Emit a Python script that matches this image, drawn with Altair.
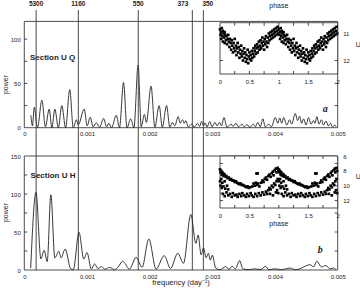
import altair as alt
import pandas as pd

# ---------------- data ----------------
# power spectra: (frequency in 1e-3 day^-1, power)
Q_SPECTRUM = [
    (0.106, 14), (0.130, 2), (0.159, 23), (0.210, 0), (0.281, 31), (0.337, 1), (0.397, 21), (0.440, 0),
    (0.487, 21), (0.543, 0), (0.598, 25), (0.659, 0), (0.725, 43), (0.781, 0), (0.832, 9), (0.860, 3),
    (0.956, 21), (1.003, 2), (1.051, 12), (1.098, 1), (1.149, 5.5), (1.202, 0.5), (1.265, 10.5), (1.313, 1),
    (1.349, 5), (1.392, 0), (1.467, 14), (1.519, 0), (1.583, 51), (1.638, 0), (1.698, 10), (1.749, 0),
    (1.816, 70.7), (1.865, 1), (1.916, 15), (1.948, 6), (2.022, 47), (2.083, 0.5), (2.151, 25), (2.202, 0.5),
    (2.270, 25), (2.321, 0.5), (2.360, 6), (2.400, 2), (2.456, 12.5), (2.487, 5), (2.524, 9), (2.551, 5),
    (2.578, 8), (2.614, 1), (2.673, 4), (2.710, 0.5), (2.765, 5), (2.797, 1.5), (2.829, 7), (2.860, 2),
    (2.884, 5.5), (2.916, 1), (2.959, 7), (2.995, 1), (3.043, 6), (3.075, 2), (3.114, 6), (3.146, 2),
    (3.186, 11.5), (3.233, 0.5), (3.297, 4), (3.329, 1.5), (3.376, 5), (3.416, 1), (3.471, 4), (3.511, 1),
    (3.551, 3.5), (3.598, 0.5), (3.654, 4), (3.686, 1), (3.725, 6), (3.765, 1), (3.805, 10), (3.844, 1),
    (3.900, 4), (3.940, 1), (4.006, 11.5), (4.043, 5), (4.075, 11), (4.106, 5), (4.138, 11.5), (4.186, 3),
    (4.233, 9), (4.265, 4), (4.324, 16), (4.360, 8), (4.392, 13), (4.424, 5), (4.456, 10), (4.495, 3),
    (4.535, 11.5), (4.575, 4), (4.614, 8), (4.638, 5), (4.667, 12.5), (4.702, 4), (4.741, 9), (4.773, 3),
    (4.813, 7.5), (4.852, 2), (4.884, 5), (4.916, 1), (4.956, 3), (4.975, 1),
]
H_SPECTRUM = [
    (0.102, 2.6), (0.186, 102), (0.265, 14.5), (0.317, 26), (0.365, 11), (0.424, 99), (0.487, 16),
    (0.551, 24.6), (0.587, 16), (0.651, 27.6), (0.741, 1.5), (0.781, 0.5), (0.873, 49.6), (0.948, 14.5),
    (1.000, 23), (1.070, 1.3), (1.122, 8), (1.175, 2), (1.229, 4.4), (1.289, 1), (1.360, 3.5), (1.440, 0.5),
    (1.487, 3), (1.571, 11.4), (1.678, 1.3), (1.784, 16.7), (1.879, 3.5), (1.987, 40.8), (2.102, 1.3),
    (2.233, 18.9), (2.333, 2), (2.448, 22), (2.540, 8.8), (2.657, 73), (2.737, 35), (2.773, 46),
    (2.821, 20), (2.860, 29), (2.900, 16), (2.937, 22), (2.968, 13), (3.000, 19.5), (3.054, 2.5),
    (3.122, 0.5), (3.213, 4.4), (3.265, 1), (3.317, 4.8), (3.368, 1.5), (3.435, 12.3), (3.487, 1.5),
    (3.583, 0.5), (3.678, 1.5), (3.773, 0.5), (3.848, 4.8), (3.900, 0.5), (3.995, 1.5), (4.106, 0.5),
    (4.241, 2.5), (4.324, 0.5), (4.392, 1.5), (4.456, 4), (4.562, 7), (4.614, 4), (4.667, 11.4),
    (4.741, 4), (4.810, 6), (4.879, 1.5), (4.932, 2.5), (4.975, 0.5),
]
PERIODS = [5300, 1160, 550, 373, 350]          # days
PERIOD_ALIGN = ["center", "center", "center", "right", "left"]

# folded light curves (phase 0..1, U magnitude); shown over two cycles
Q_LIGHT = [
    (0.00, 10.85), (0.01, 11.05), (0.02, 10.95), (0.02, 11.20), (0.03, 10.80), (0.04, 11.10), (0.05, 10.90),
    (0.05, 11.30), (0.06, 11.00), (0.07, 11.15), (0.08, 10.95), (0.08, 11.35), (0.09, 11.05), (0.10, 11.25),
    (0.11, 11.10), (0.12, 11.40), (0.13, 11.20), (0.14, 11.05), (0.15, 11.30), (0.16, 11.50), (0.17, 11.20),
    (0.18, 11.35), (0.19, 11.60), (0.20, 11.25), (0.21, 11.45), (0.22, 11.70), (0.23, 11.35), (0.24, 11.55),
    (0.25, 11.20), (0.26, 11.65), (0.27, 11.45), (0.28, 11.80), (0.29, 11.55), (0.30, 11.35), (0.31, 11.70),
    (0.32, 11.50), (0.33, 11.90), (0.34, 11.60), (0.35, 11.75), (0.36, 11.45), (0.37, 11.85), (0.38, 11.65),
    (0.39, 12.00), (0.40, 11.75), (0.41, 11.55), (0.42, 11.90), (0.43, 11.70), (0.44, 12.05), (0.45, 11.80),
    (0.46, 11.95), (0.47, 11.60), (0.48, 12.10), (0.49, 11.85), (0.50, 11.70), (0.51, 11.95), (0.52, 11.80),
    (0.53, 12.00), (0.54, 11.65), (0.55, 11.90), (0.56, 11.75), (0.57, 11.55), (0.58, 11.85), (0.59, 11.65),
    (0.60, 11.45), (0.61, 11.75), (0.62, 11.55), (0.63, 11.40), (0.64, 11.70), (0.65, 11.50), (0.66, 11.30),
    (0.67, 11.60), (0.68, 11.45), (0.69, 11.25), (0.70, 11.55), (0.71, 11.35), (0.72, 11.15), (0.73, 11.45),
    (0.74, 11.30), (0.75, 11.60), (0.76, 11.20), (0.77, 11.40), (0.78, 11.10), (0.79, 11.30), (0.80, 11.50),
    (0.81, 11.15), (0.82, 11.35), (0.83, 11.00), (0.84, 11.25), (0.85, 11.10), (0.86, 10.95), (0.87, 11.20),
    (0.88, 11.05), (0.89, 10.90), (0.90, 11.15), (0.91, 11.00), (0.92, 10.85), (0.93, 11.10), (0.94, 10.95),
    (0.95, 10.80), (0.96, 11.05), (0.97, 10.90), (0.98, 10.75), (0.99, 11.00),
]
H_LIGHT = [
    (0.00, 7.8), (0.01, 8.2), (0.02, 8.0), (0.03, 8.5), (0.04, 8.2), (0.05, 8.6), (0.06, 8.4), (0.07, 8.7),
    (0.08, 8.5), (0.10, 8.8), (0.11, 8.7), (0.13, 9.0), (0.15, 8.9), (0.17, 9.2), (0.19, 9.1), (0.21, 9.3),
    (0.23, 9.3), (0.25, 9.5), (0.27, 9.4), (0.29, 9.6), (0.31, 9.7), (0.33, 9.8), (0.35, 9.7), (0.37, 9.9),
    (0.39, 9.9), (0.41, 10.0), (0.43, 10.1), (0.45, 10.2), (0.47, 10.1), (0.49, 10.3), (0.51, 10.2),
    (0.00, 9.4), (0.01, 10.0), (0.02, 9.1), (0.03, 10.3), (0.04, 9.6), (0.06, 10.1), (0.08, 9.4), (0.09, 10.4),
    (0.12, 10.0), (0.14, 10.5),
    (0.05, 11.1), (0.08, 11.4), (0.11, 10.9), (0.14, 11.3), (0.17, 11.1), (0.20, 11.5), (0.22, 11.0),
    (0.25, 11.3), (0.28, 11.2), (0.30, 11.5), (0.33, 11.1), (0.36, 11.4), (0.38, 11.0), (0.41, 11.3),
    (0.44, 11.5), (0.46, 11.1), (0.49, 11.4), (0.52, 11.0), (0.54, 11.3), (0.57, 11.5), (0.60, 11.1),
    (0.63, 11.4), (0.66, 11.0), (0.69, 11.3), (0.72, 10.9), (0.75, 11.2), (0.78, 10.8), (0.80, 11.1),
    (0.55, 10.1), (0.57, 9.7), (0.59, 10.0), (0.61, 9.6), (0.63, 9.9), (0.65, 9.7), (0.67, 10.1),
    (0.62, 8.35), (0.64, 8.35),
    (0.70, 9.6), (0.72, 9.3), (0.74, 9.5), (0.76, 9.1), (0.78, 8.9), (0.80, 9.2), (0.82, 8.7), (0.84, 8.5),
    (0.86, 8.8), (0.88, 8.3), (0.90, 8.1), (0.91, 8.6), (0.93, 7.9), (0.95, 7.7), (0.96, 8.2), (0.98, 7.6),
    (0.99, 8.0),
    (0.82, 10.6), (0.84, 10.3), (0.86, 10.5), (0.88, 10.0), (0.90, 10.2), (0.92, 9.7), (0.94, 9.9),
    (0.96, 9.4), (0.97, 10.6), (0.98, 9.1), (0.99, 11.0), (0.85, 11.1), (0.90, 11.3), (0.95, 10.9),
]

X_LABELS = [0, 0.001, 0.002, 0.003, 0.004, 0.005]
Q_YLABELS = [0, 50, 100]
H_YLABELS = [0, 50, 100, 150]
Q_YTICKS_LEFT = [25, 50, 75, 100]
Q_YTICKS_RIGHT = [25, 50]
H_YTICKS_LEFT = [25, 50, 75, 100, 125]
H_YTICKS_RIGHT = [25, 50, 75]
PHASE_LABELS = [0, 0.5, 1, 1.5, 2]
PHASE_TICKS = [0.25, 0.5, 0.75, 1, 1.25, 1.5, 1.75]
Q_ULABELS = [11, 12]
H_ULABELS = [6, 8, 10, 12]
H_UTICKS = [7, 8, 9, 10, 11, 12]
X_TITLE = "frequency (day⁻¹)"

# ---------------- layout / style ----------------
FONT = "Liberation Sans"
INK = "#222222"
W, H = 313.4, 248.6          # single view covering both panels
TOP_H = 106.3                # bottom of upper panel (view px)
BOT_TOP = 134.6              # top of lower panel
IN_X0 = 195.7                # left edge of insets
QIN_RANGE = [1.3, 52.6]
HIN_RANGE = [134.6, 186.6]
FMAX = 0.005
Q_MAX, H_MAX = 120, 150
Q_UDOM, H_UDOM = [10.6, 12.5], [6, 13]

AX_STYLE = dict(domain=False, ticks=False, grid=False, labelColor=INK, titleColor=INK,
                labelFont=FONT, titleFont=FONT, labelFontSize=6, titleFontSize=7,
                titleFontWeight="normal")


def sx_main():
    return alt.Scale(domain=[0, FMAX], range=[0, W], nice=False, zero=False)


def sy_q():
    return alt.Scale(domain=[0, Q_MAX], range=[TOP_H, 0], nice=False, zero=False)


def sy_h():
    return alt.Scale(domain=[0, H_MAX], range=[H, BOT_TOP], nice=False, zero=False)


def sx_in():
    return alt.Scale(domain=[0, 2], range=[IN_X0, W], nice=False, zero=False)


def sy_qin():
    return alt.Scale(domain=Q_UDOM, range=QIN_RANGE, nice=False, zero=False)


def sy_hin():
    return alt.Scale(domain=H_UDOM, range=HIN_RANGE, nice=False, zero=False)


def spectrum_df(pairs):
    d = pd.DataFrame(pairs, columns=["f", "p"])
    d["f"] = d["f"] * 1e-3
    return d


def light_df(pairs):
    d = pd.DataFrame(pairs, columns=["phase", "u"])
    d2 = d.copy()
    d2["phase"] = d2["phase"] + 1
    return pd.concat([d, d2], ignore_index=True)


def tick_rows(vals_left, vals_right, xlo, xhi, dx):
    rows = [{"x": xlo, "x2": xlo + dx, "y": v, "y2": v} for v in vals_left]
    rows += [{"x": xhi, "x2": xhi - dx, "y": v, "y2": v} for v in vals_right]
    return pd.DataFrame(rows)


def label_text(text, size=7, **kw):
    return alt.Chart(pd.DataFrame({"t": [text]})).mark_text(
        font=FONT, fontSize=size, color=INK, baseline="middle", **kw)


def main_panel(pairs, sy, ymax, ylabels, lt, rt, xoffset, ytitle_y,
               section, sec_f, sec_p, letter, let_f, let_p):
    df = spectrum_df(pairs)
    frame = alt.Chart(pd.DataFrame({"x": [0], "x2": [FMAX], "y": [0], "y2": [ymax]})).mark_rect(
        fillOpacity=0, stroke=INK, strokeWidth=0.8).encode(
        x=alt.X("x:Q", scale=sx_main(), axis=None), x2="x2",
        y=alt.Y("y:Q", scale=sy(), axis=None), y2="y2")
    line = alt.Chart(df).mark_line(interpolate="monotone", color=INK, strokeWidth=0.9).encode(
        x=alt.X("f:Q", scale=sx_main(), axis=alt.Axis(
            orient="bottom", offset=xoffset, values=X_LABELS, format="~g", labelFlush=False,
            labelPadding=3, title="", **AX_STYLE)),
        y=alt.Y("p:Q", scale=sy(), axis=alt.Axis(
            orient="left", values=ylabels, labelPadding=4, title="power", titleX=-18.5,
            titleY=ytitle_y, titleBaseline="middle", titleAngle=270, **AX_STYLE)),
    )
    tdf = tick_rows(lt, rt, 0, FMAX, FMAX * 3 / W)
    ticks = alt.Chart(tdf).mark_rule(color=INK, strokeWidth=0.8).encode(
        x=alt.X("x:Q", scale=sx_main(), axis=None), x2="x2",
        y=alt.Y("y:Q", scale=sy(), axis=None), y2="y2")
    sec = alt.Chart(pd.DataFrame({"f": [sec_f], "p": [sec_p], "t": [section]})).mark_text(
        align="left", baseline="middle", font=FONT, fontWeight="bold", fontSize=8, color=INK).encode(
        x=alt.X("f:Q", scale=sx_main(), axis=None), y=alt.Y("p:Q", scale=sy(), axis=None), text="t:N")
    let = alt.Chart(pd.DataFrame({"f": [let_f], "p": [let_p], "t": [letter]})).mark_text(
        align="center", baseline="middle", font="Liberation Serif", fontWeight="bold",
        fontStyle="italic", fontSize=10, color=INK).encode(
        x=alt.X("f:Q", scale=sx_main(), axis=None), y=alt.Y("p:Q", scale=sy(), axis=None), text="t:N")
    return [frame, line, ticks, sec, let]


# upper panel (Section U Q) + period lines
q_layers = main_panel(Q_SPECTRUM, sy_q, Q_MAX, Q_YLABELS, Q_YTICKS_LEFT, Q_YTICKS_RIGHT,
                      TOP_H - H, 62.6, "Section  U Q", 0.00009, 79, "a", 0.0048, 21)

per_df = pd.DataFrame({"period": PERIODS, "align": PERIOD_ALIGN})
per_df["f"] = 1.0 / per_df["period"]
per_df["label"] = per_df["period"].astype(str)
rules = alt.Chart(per_df).mark_rule(color="#4a4a4a", strokeWidth=1).encode(
    x=alt.X("f:Q", scale=sx_main(), axis=None), y=alt.value(-11.4), y2=alt.value(H))
per_text = []
for al, dx in [("center", 0), ("right", -4), ("left", -1)]:
    per_text.append(
        alt.Chart(per_df).transform_filter(alt.datum.align == al).mark_text(
            align=al, dx=dx, baseline="middle", font=FONT, fontWeight="bold", fontSize=6.5, color=INK
        ).encode(x=alt.X("f:Q", scale=sx_main(), axis=None), y=alt.value(-17), text="label:N"))

# lower panel (Section U H)
h_layers = main_panel(H_SPECTRUM, sy_h, H_MAX, H_YLABELS, H_YTICKS_LEFT, H_YTICKS_RIGHT,
                      0, 190.6, "Section  U H", 0.0001, 124, "b", 0.00472, 26)

x_title = label_text(X_TITLE, size=7.5, align="center").encode(
    x=alt.value(W / 2), y=alt.value(H + 13), text="t:N")


def inset(pairs, sy, udom, ulabels, uticks, xoffset, phase_y, u_y, tick_du):
    df = light_df(pairs)
    frame = alt.Chart(pd.DataFrame({"x": [0], "x2": [2], "y": [udom[0]], "y2": [udom[1]]})).mark_rect(
        fill="white", stroke=INK, strokeWidth=0.8).encode(
        x=alt.X("x:Q", scale=sx_in(), axis=None), x2="x2",
        y=alt.Y("y:Q", scale=sy(), axis=None), y2="y2")
    pts = alt.Chart(df).mark_square(size=7, color="black", opacity=1).encode(
        x=alt.X("phase:Q", scale=sx_in(), axis=alt.Axis(
            orient="bottom", offset=xoffset, values=PHASE_LABELS, format="~g", labelFlush=False,
            labelPadding=4, title="", **AX_STYLE)),
        y=alt.Y("u:Q", scale=sy(), axis=alt.Axis(
            orient="right", values=ulabels, labelPadding=5, title="", **AX_STYLE)),
    )
    rows = []
    for v in PHASE_TICKS:
        rows.append({"x": v, "x2": v, "y": udom[0], "y2": udom[0] + tick_du})
        rows.append({"x": v, "x2": v, "y": udom[1], "y2": udom[1] - tick_du})
    for v in uticks:
        rows.append({"x": 2, "x2": 2 - 2 * 3 / (W - IN_X0), "y": v, "y2": v})
        rows.append({"x": 0, "x2": 2 * 3 / (W - IN_X0), "y": v, "y2": v})
    tk = alt.Chart(pd.DataFrame(rows)).mark_rule(color=INK, strokeWidth=0.8).encode(
        x=alt.X("x:Q", scale=sx_in(), axis=None), x2="x2",
        y=alt.Y("y:Q", scale=sy(), axis=None), y2="y2")
    ph = label_text("phase", align="center").encode(
        x=alt.value((IN_X0 + W) / 2), y=alt.value(phase_y), text="t:N")
    ut = label_text("U", align="center").encode(
        x=alt.value(W + 20.5), y=alt.value(u_y), text="t:N")
    return [frame, pts, tk, ph, ut]


q_du = (Q_UDOM[1] - Q_UDOM[0]) * 3 / (QIN_RANGE[1] - QIN_RANGE[0])
h_du = (H_UDOM[1] - H_UDOM[0]) * 3 / (HIN_RANGE[1] - HIN_RANGE[0])
qin_layers = inset(Q_LIGHT, sy_qin, Q_UDOM, Q_ULABELS, Q_ULABELS, QIN_RANGE[1] - H,
                   QIN_RANGE[1] - 68, 23.6, q_du)
hin_layers = inset(H_LIGHT, sy_hin, H_UDOM, H_ULABELS, H_UTICKS, HIN_RANGE[1] - H,
                   HIN_RANGE[1] + 16, 155.9, h_du)

all_layers = q_layers + [rules] + per_text + h_layers + [x_title] + qin_layers + hin_layers

chart = alt.layer(*all_layers).resolve_scale(
    x="independent", y="independent"
).resolve_axis(
    x="independent", y="independent"
).properties(
    width=W, height=H,
    padding={"left": 24.3, "top": 21.4, "right": 22.3, "bottom": 18},
    autosize=alt.AutoSizeParams(type="none"),
    background="white",
).configure_view(strokeWidth=0).configure_axis(
    labelFont=FONT, titleFont=FONT, labelFontSize=6, titleFontSize=7,
    titleFontWeight="normal", labelColor=INK, titleColor=INK,
)

chart.save("out.html", embed_options={"renderer": "svg", "actions": False})
